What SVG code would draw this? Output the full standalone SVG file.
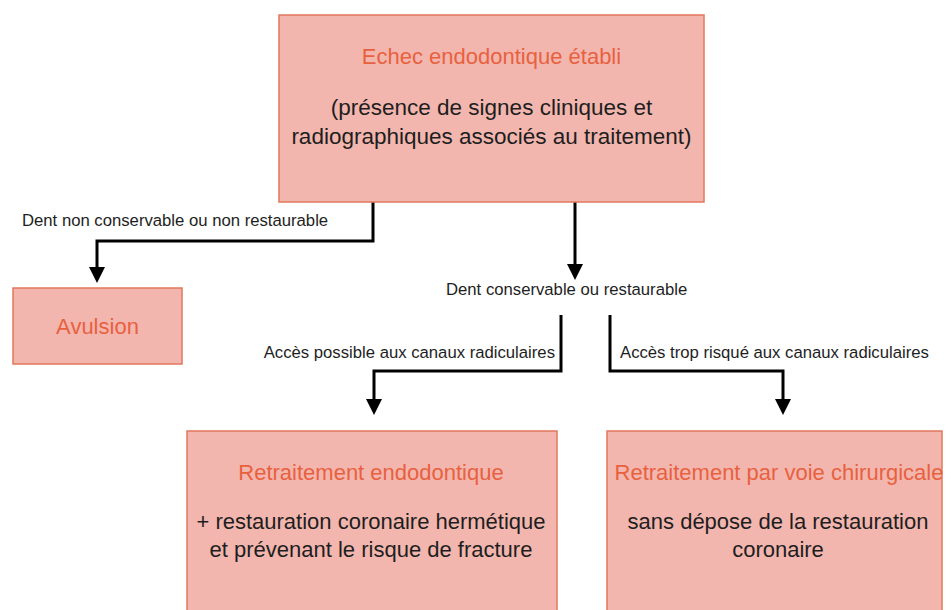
<svg xmlns="http://www.w3.org/2000/svg" width="951" height="610" viewBox="0 0 951 610">
<style>
.box{fill:#f3b6ae;stroke:#e2775c;stroke-width:1.5}
.title{font-family:"Liberation Sans",Arial,sans-serif;font-size:22px;fill:#e8613f;text-anchor:middle}
.body{font-family:"Liberation Sans",Arial,sans-serif;font-size:22.5px;fill:#1e1e1e;text-anchor:middle}
.body2{font-family:"Liberation Sans",Arial,sans-serif;font-size:22px;fill:#1e1e1e;text-anchor:middle}
.lbl{font-family:"Liberation Sans",Arial,sans-serif;font-size:16.7px;fill:#1e1e1e}
.conn{fill:none;stroke:#000;stroke-width:3}
</style>
<defs>
<marker id="ah" markerUnits="userSpaceOnUse" markerWidth="16" markerHeight="16" refX="6" refY="8" orient="auto">
<path d="M0,0 L16,8 L0,16 z" fill="#000"/>
</marker>
</defs>
<rect width="951" height="610" fill="#fff"/>
<g id="connectors">
<path class="conn" d="M373,202 V241 H97 V273" marker-end="url(#ah)"/>
<path class="conn" d="M575,202 V270" marker-end="url(#ah)"/>
<path class="conn" d="M561,315 V371 H374 V405" marker-end="url(#ah)"/>
<path class="conn" d="M610,315 V371 H783 V405" marker-end="url(#ah)"/>
<text class="lbl" x="22" y="226">Dent non conservable ou non restaurable</text>
<text class="lbl" x="446" y="295">Dent conservable ou restaurable</text>
<text class="lbl" x="555" y="358" text-anchor="end">Accès possible aux canaux radiculaires</text>
<text class="lbl" x="620" y="358">Accès trop risqué aux canaux radiculaires</text>
</g>
<g id="echec">
<rect class="box" x="279" y="15" width="425" height="187"/>
<text class="title" x="491.5" y="64">Echec endodontique établi</text>
<text class="body" x="491.5" y="115">(présence de signes cliniques et</text>
<text class="body" x="491.5" y="144">radiographiques associés au traitement)</text>
</g>
<g id="avulsion">
<rect class="box" x="13" y="288" width="169" height="76"/>
<text class="title" x="97.5" y="334">Avulsion</text>
</g>
<g id="retraitement-endo">
<rect class="box" x="187" y="431" width="370" height="190"/>
<text class="title" x="371" y="480">Retraitement endodontique</text>
<text class="body2" x="371" y="529">+ restauration coronaire hermétique</text>
<text class="body2" x="371" y="557">et prévenant le risque de fracture</text>
</g>
<g id="retraitement-chir">
<rect class="box" x="607" y="431" width="335" height="190"/>
<text class="title" x="779" y="480">Retraitement par voie chirurgicale</text>
<text class="body2" x="778" y="529">sans dépose de la restauration</text>
<text class="body2" x="778" y="557">coronaire</text>
</g>
</svg>
